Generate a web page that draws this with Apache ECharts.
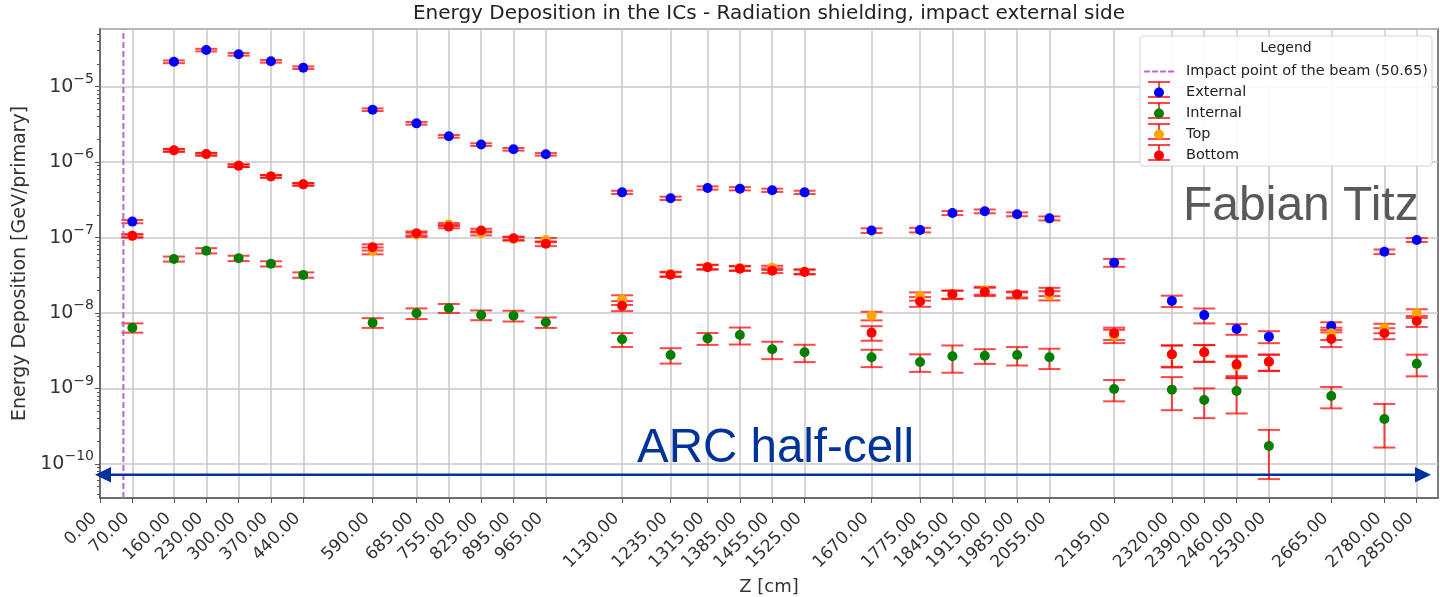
<!DOCTYPE html>
<html>
<head>
<meta charset="utf-8">
<title>Energy Deposition in the ICs</title>
<script src="https://cdn.jsdelivr.net/npm/echarts@6/dist/echarts.min.js"></script>
<style>
  html, body { margin: 0; padding: 0; background: #fff; }
  #chart { width: 1440px; height: 597px; }
</style>
</head>
<body>
<div id="chart"></div>
<script>
// z positions of the ICs [cm]
const zPos = [70, 160, 230, 300, 370, 440, 590, 685, 755, 825, 895, 965,
  1130, 1235, 1315, 1385, 1455, 1525, 1670, 1775, 1845, 1915, 1985, 2055,
  2195, 2320, 2390, 2460, 2530, 2665, 2780, 2850]
const zTicks = [0].concat(zPos)
const beamZ = 50.65

// energy deposition [GeV/primary] and (symmetric) errors
const externalVal = [1.63e-7, 2.14e-5, 3.06e-5, 2.69e-5, 2.17e-5, 1.79e-5, 4.96e-6, 3.27e-6, 2.20e-6, 1.71e-6, 1.48e-6, 1.27e-6,
  3.98e-7, 3.32e-7, 4.55e-7, 4.45e-7, 4.24e-7, 3.98e-7, 1.24e-7, 1.26e-7, 2.12e-7, 2.23e-7, 2.04e-7, 1.80e-7,
  4.66e-8, 1.45e-8, 9.4e-9, 6.15e-9, 4.87e-9, 6.75e-9, 6.5e-8, 9.3e-8]
const externalErr = [8e-9, 9e-7, 1.2e-6, 1.1e-6, 8.7e-7, 7e-7, 2e-7, 1.3e-7, 9e-8, 7e-8, 6e-8, 5e-8,
  2e-8, 1.7e-8, 2.3e-8, 2.2e-8, 2.1e-8, 2e-8, 8.7e-9, 8.8e-9, 1.3e-8, 1.3e-8, 1.2e-8, 1.1e-8,
  5.6e-9, 2.5e-9, 2.1e-9, 1.0e-9, 8.8e-10, 8e-10, 4.6e-9, 5.6e-9]

const internalVal = [6.4e-9, 5.21e-8, 6.71e-8, 5.32e-8, 4.5e-8, 3.2e-8, 7.46e-9, 9.93e-9, 1.16e-8, 9.44e-9, 9.23e-9, 7.55e-9,
  4.49e-9, 2.78e-9, 4.62e-9, 5.13e-9, 3.31e-9, 3.02e-9, 2.59e-9, 2.25e-9, 2.67e-9, 2.72e-9, 2.78e-9, 2.59e-9,
  9.86e-10, 9.66e-10, 7.05e-10, 9.27e-10, 1.73e-10, 7.96e-10, 3.95e-10, 2.13e-9]
const internalErr = [9e-10, 4e-9, 5.4e-9, 4.3e-9, 3.6e-9, 2.6e-9, 1.1e-9, 1.6e-9, 1.6e-9, 1.4e-9, 1.5e-9, 1.2e-9,
  9.4e-10, 6.4e-10, 8.3e-10, 1.3e-9, 8.6e-10, 7.8e-10, 6.7e-10, 5.9e-10, 1.05e-9, 6e-10, 7.6e-10, 7.8e-10,
  3.1e-10, 4.5e-10, 3e-10, 4.6e-10, 1.1e-10, 2.5e-10, 2.3e-10, 6.8e-10]

const topVal = [1.05e-7, 1.43e-6, 1.27e-6, 9.0e-7, 6.5e-7, 5.1e-7, 6.7e-8, 1.09e-7, 1.49e-7, 1.14e-7, 9.6e-8, 9.3e-8,
  1.50e-8, 3.3e-8, 4.1e-8, 3.95e-8, 3.98e-8, 3.55e-8, 9.2e-9, 1.67e-8, 1.75e-8, 1.99e-8, 1.72e-8, 1.71e-8,
  5.0e-9, 2.8e-9, 3.0e-9, 2.0e-9, 2.25e-9, 5.4e-9, 6.3e-9, 9.93e-9]
const topErr = [5e-9, 6e-8, 5e-8, 3.5e-8, 2.6e-8, 2e-8, 7e-9, 7e-9, 7e-9, 7e-9, 5e-9, 6e-9,
  2.2e-9, 2.3e-9, 2.8e-9, 2.7e-9, 2.6e-9, 2.5e-9, 1.2e-9, 2.1e-9, 2.2e-9, 2.4e-9, 1.6e-9, 2.4e-9,
  1.0e-9, 9e-10, 7.5e-10, 6.3e-10, 5.5e-10, 1.0e-9, 9e-10, 1.3e-9]

const bottomVal = [1.06e-7, 1.44e-6, 1.28e-6, 8.97e-7, 6.48e-7, 5.08e-7, 7.44e-8, 1.14e-7, 1.40e-7, 1.24e-7, 9.8e-8, 8.3e-8,
  1.25e-8, 3.23e-8, 4.04e-8, 3.88e-8, 3.65e-8, 3.5e-8, 5.5e-9, 1.42e-8, 1.77e-8, 1.92e-8, 1.77e-8, 1.92e-8,
  5.4e-9, 2.84e-9, 3.02e-9, 2.09e-9, 2.27e-9, 4.54e-9, 5.4e-9, 7.85e-9]
const bottomErr = [5e-9, 6e-8, 5e-8, 3.5e-8, 2.6e-8, 2e-8, 7e-9, 7e-9, 7e-9, 7e-9, 5e-9, 6e-9,
  1.9e-9, 2.3e-9, 2.8e-9, 2.7e-9, 2.6e-9, 2.5e-9, 1.2e-9, 2.1e-9, 2.2e-9, 2.4e-9, 1.6e-9, 2.4e-9,
  1.0e-9, 9e-10, 7.5e-10, 6.3e-10, 5.5e-10, 1.0e-9, 9e-10, 1.3e-9]

// axis limits
const X_MIN = 0
const X_MAX = 2896
const Y_MIN = 3.54e-11
const Y_MAX = 5.82e-5

const BEAM = 'Impact point of the beam (50.65)'
const ERR_COLOR = 'rgba(255,0,0,0.72)'
const FONT = 'DejaVu Sans'

const groups = [
  { name: 'External', color: '#0000ff', val: externalVal, err: externalErr },
  { name: 'Internal', color: '#008000', val: internalVal, err: internalErr },
  { name: 'Top', color: '#ffa500', val: topVal, err: topErr },
  { name: 'Bottom', color: '#ff0000', val: bottomVal, err: bottomErr },
]

// log minor tick positions (in log10 space, for the helper axis)
const minorTicks = []
for (let n = -11; n <= -5; n++) {
  for (let k = 2; k <= 9; k++) minorTicks.push(n + Math.log10(k))
}

function errorBar(params, api) {
  const x = api.value(0)
  const pLo = api.coord([x, api.value(1)])
  const pHi = api.coord([x, api.value(2)])
  const half = 11
  const style = { stroke: ERR_COLOR, lineWidth: 2 }
  return {
    type: 'group',
    children: [
      { type: 'line', shape: { x1: pLo[0], y1: pLo[1], x2: pHi[0], y2: pHi[1] }, style },
      { type: 'line', shape: { x1: pLo[0] - half, y1: pLo[1], x2: pLo[0] + half, y2: pLo[1] }, style },
      { type: 'line', shape: { x1: pHi[0] - half, y1: pHi[1], x2: pHi[0] + half, y2: pHi[1] }, style },
    ]
  }
}

const series = [{
  name: BEAM,
  type: 'line',
  data: [[beamZ, Y_MIN], [beamZ, Y_MAX]],
  symbol: 'none',
  itemStyle: { color: '#b36ccb' },
  lineStyle: { color: '#b36ccb', width: 2, type: [6, 3] },
  silent: true,
}]
groups.forEach(g => {
  series.push({
    name: g.name + ' error',
    type: 'custom',
    renderItem: errorBar,
    encode: { x: 0, y: [1, 2] },
    data: zPos.map((z, i) => [z, g.val[i] - g.err[i], g.val[i] + g.err[i]]),
    silent: true,
  })
  series.push({
    name: g.name,
    type: 'scatter',
    symbol: 'circle',
    symbolSize: 10,
    itemStyle: { color: g.color, opacity: 1 },
    data: zPos.map((z, i) => [z, g.val[i]]),
    silent: true,
  })
})

// red error-bar glyphs under the legend markers
const legendRows = [90, 111, 132, 153]
const legendGlyphs = []
legendRows.forEach(y => {
  const s = { stroke: ERR_COLOR, lineWidth: 2 }
  legendGlyphs.push({ type: 'line', z: 3, shape: { x1: 1159, y1: y - 8, x2: 1159, y2: y + 7 }, style: s })
  legendGlyphs.push({ type: 'line', z: 3, shape: { x1: 1148, y1: y - 8, x2: 1170, y2: y - 8 }, style: s })
  legendGlyphs.push({ type: 'line', z: 3, shape: { x1: 1148, y1: y + 7, x2: 1170, y2: y + 7 }, style: s })
})

const chart = echarts.init(document.getElementById('chart'))
chart.setOption({
  animation: false,
  textStyle: { fontFamily: FONT },
  title: {
    text: 'Energy Deposition in the ICs - Radiation shielding, impact external side',
    left: 769,
    textAlign: 'center',
    top: 4,
    padding: 0,
    textStyle: { fontFamily: FONT, fontSize: 20, fontWeight: 'normal', color: '#222' }
  },
  grid: {
    left: 100, right: 2, top: 29, bottom: 99,
    outerBoundsMode: 'none',
    show: true, borderColor: '#555', borderWidth: 1.5
  },
  legend: {
    orient: 'vertical',
    left: 1144,
    top: 64,
    padding: 0,
    itemWidth: 30,
    itemHeight: 10,
    itemGap: 6,
    selectedMode: false,
    textStyle: { fontFamily: FONT, fontSize: 14.5, color: '#222', lineHeight: 15, padding: [0, 0, 0, 7] },
    data: [
      { name: BEAM, icon: 'path://M0,0h6v2h-6z M8,0h6v2h-6z M16,0h6v2h-6z M24,0h6v2h-6z' },
      { name: 'External', icon: 'circle' },
      { name: 'Internal', icon: 'circle' },
      { name: 'Top', icon: 'circle' },
      { name: 'Bottom', icon: 'circle' },
    ]
  },
  xAxis: {
    type: 'value',
    min: X_MIN,
    max: X_MAX,
    name: 'Z [cm]',
    nameLocation: 'middle',
    nameGap: 79,
    nameTextStyle: { fontFamily: FONT, fontSize: 18, color: '#333' },
    axisLine: { lineStyle: { color: '#555', width: 1.5 } },
    axisTick: { customValues: zTicks, length: 5, lineStyle: { color: '#555' } },
    axisLabel: {
      customValues: zTicks,
      rotate: 45,
      margin: 12,
      padding: [0, 8, 0, 0],
      fontSize: 17,
      color: '#333',
      formatter: v => v.toFixed(2)
    },
    splitLine: { show: true, lineStyle: { color: '#c8c8c8', width: 1.5 } }
  },
  yAxis: [{
    type: 'log',
    logBase: 10,
    min: Y_MIN,
    max: Y_MAX,
    name: 'Energy Deposition [GeV/primary]',
    nameLocation: 'middle',
    nameGap: 66,
    nameTextStyle: { fontFamily: FONT, fontSize: 19, color: '#333' },
    axisLine: { show: true, lineStyle: { color: '#555', width: 1.5 } },
    axisTick: { show: true, length: 5, lineStyle: { color: '#555' } },
    splitLine: { show: true, lineStyle: { color: '#c8c8c8', width: 1.5 } },
    axisLabel: {
      margin: 6,
      showMinLabel: false,
      showMaxLabel: false,
      formatter: v => {
        const e = Math.log10(v)
        if (Math.abs(e - Math.round(e)) > 1e-6) return ''
        return '{b|10}{s|\u2212' + Math.abs(Math.round(e)) + '}'
      },
      rich: {
        b: { fontFamily: FONT, fontSize: 19, color: '#333', lineHeight: 19, verticalAlign: 'bottom', padding: [4, 0, 0, 0] },
        s: { fontFamily: FONT, fontSize: 14, color: '#333', lineHeight: 14, verticalAlign: 'bottom', padding: [0, 0, 10, 0] }
      }
    }
  }, {
    type: 'value',
    min: Math.log10(Y_MIN),
    max: Math.log10(Y_MAX),
    position: 'left',
    axisLine: { show: false },
    axisLabel: { show: false },
    splitLine: { show: false },
    axisTick: { show: true, customValues: minorTicks, length: 3, lineStyle: { color: '#555' } }
  }],
  series: series,
  graphic: [
    { type: 'rect', z: 3, shape: { x: 1140, y: 36, width: 292, height: 130, r: 3 },
      style: { fill: 'rgba(255,255,255,0.9)', stroke: '#d4d4d4', lineWidth: 1 } },
    { type: 'text', z: 3, x: 1286, y: 48,
      style: { text: 'Legend', font: '14px "DejaVu Sans"', fill: '#222', align: 'center', verticalAlign: 'middle' } },
    ...legendGlyphs,
    { type: 'text', z: 10, x: 1183, y: 207,
      style: { text: 'Fabian Titz', font: '48px "Liberation Sans"', fill: '#595959', align: 'left', verticalAlign: 'middle' } },
    { type: 'text', z: 10, x: 637, y: 449,
      style: { text: 'ARC half-cell', font: '47.5px "Liberation Sans"', fill: '#003399', align: 'left', verticalAlign: 'middle' } },
    { type: 'line', z: 10, shape: { x1: 108, y1: 474.7, x2: 1417, y2: 474.7 },
      style: { stroke: '#003399', lineWidth: 2.5 } },
    { type: 'polygon', z: 10, shape: { points: [[95, 474.7], [111, 467], [111, 482.5]] },
      style: { fill: '#003399' } },
    { type: 'polygon', z: 10, shape: { points: [[1431, 474.7], [1415, 467], [1415, 482.5]] },
      style: { fill: '#003399' } },
  ]
})
</script>
</body>
</html>
